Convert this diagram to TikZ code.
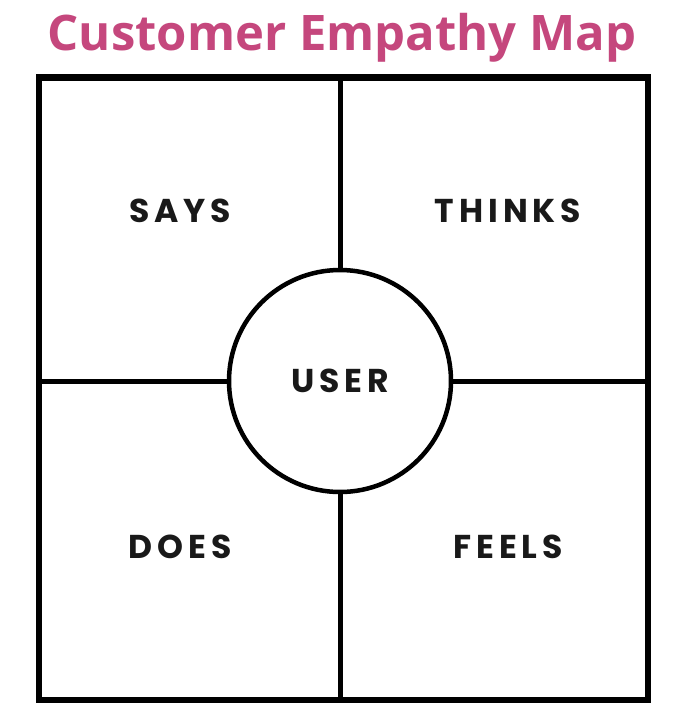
\documentclass[tikz,border=0pt]{standalone}
\usepackage{fontspec}
\setmainfont{Open Sans}
\newfontfamily\labelfont[LetterSpace=15]{Poppins}
\newfontfamily\titlefont{Open Sans}
\definecolor{titlepink}{HTML}{C5477D}
\begin{document}
\begin{tikzpicture}[x=1pt,y=-1pt,
  frame/.style={line width=6.5pt},
  divider/.style={line width=5pt},
  label/.style={font=\labelfont\fontsize{33}{33}\selectfont\bfseries, text=black!90, inner sep=0pt}
]
\useasboundingbox (0,0) rectangle (700,718);
\fill[white] (0,0) rectangle (700,718);
\node[font=\titlefont\fontsize{49}{49}\selectfont\bfseries, text=titlepink, inner sep=0pt] (title) at (342,38) {Customer Empathy Map};
\coordinate (tl) at (39,77.5);
\coordinate (br) at (648,700);
\coordinate (top) at (340,77.5);
\coordinate (bot) at (340,700);
\coordinate (lft) at (39,381);
\coordinate (rgt) at (648,381);
\node[circle, draw, line width=4.5pt, minimum size=222pt, inner sep=0pt] (user) at (340,381) {};
\draw[frame] (tl) rectangle (br);
\draw[divider] (top) -- (user.north);
\draw[divider] (user.south) -- (bot);
\draw[divider] (lft) -- (user.west);
\draw[divider] (user.east) -- (rgt);
\node[label] (userlbl) at (user.center) {USER};
\node[label] (says) at (180,211) {SAYS};
\node[label] (thinks) at (508,211) {THINKS};
\node[label] (does) at (180,547) {DOES};
\node[label] (feels) at (508,547) {FEELS};
\end{tikzpicture}
\end{document}
